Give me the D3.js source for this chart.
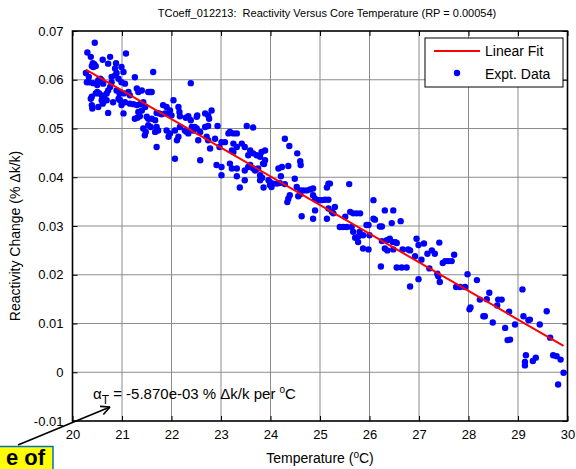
<!DOCTYPE html>
<html><head><meta charset="utf-8">
<script src="https://cdn.jsdelivr.net/npm/d3@7"></script>
<style>body{margin:0;background:#fff}svg{display:block;font-family:"Liberation Sans",Arial,sans-serif}</style>
</head><body><svg id="c" width="576" height="469"></svg>
<script>
const xTicks=[20,21,22,23,24,25,26,27,28,29,30];
const yTicks=[-0.01,0,0.01,0.02,0.03,0.04,0.05,0.06,0.07];
const yTickLabels=["-0.01","0","0.01","0.02","0.03","0.04","0.05","0.06","0.07"];
const fitT=[20.27,29.92];
const fitV=[0.0621,0.0054];
const exptData=[
[20.45,0.0676],[20.30,0.0656],[20.37,0.0647],[20.76,0.0647],[20.61,0.0641],[21.08,0.0654],[20.41,0.0634],[20.44,0.0632],[20.39,0.0628],[20.47,0.0628],[20.42,0.0626],[20.72,0.0633],[20.88,0.0634],[20.86,0.0623],[20.99,0.0626],[21.03,0.0616],[20.89,0.0614],[20.27,0.0614],[21.63,0.0616],
[20.33,0.0606],[20.29,0.0595],[20.34,0.0595],[20.56,0.0602],[20.59,0.0599],[20.52,0.0599],[20.62,0.0592],[20.42,0.0593],[20.50,0.0589],[20.79,0.0606],[20.86,0.0609],[20.79,0.0595],[20.93,0.0602],[20.99,0.0595],[21.06,0.0592],[21.26,0.0605],[22.39,0.0593],
[20.50,0.0575],[20.54,0.0572],[20.47,0.0572],[20.59,0.0568],[20.69,0.0572],[20.64,0.0565],[20.39,0.0565],[20.37,0.0561],[20.76,0.0585],[20.72,0.0578],[20.89,0.0578],[20.96,0.0575],[20.95,0.0572],[21.04,0.0572],[21.13,0.0575],[21.16,0.0568],[21.30,0.0582],[21.33,0.0575],[21.40,0.0578],[21.57,0.0575],[21.53,0.0575],[21.60,0.0575],
[20.59,0.0558],[20.62,0.0554],[20.69,0.0558],[20.61,0.0551],[20.39,0.0548],[20.40,0.0541],[20.52,0.0544],[20.82,0.0554],[20.93,0.0561],[20.96,0.0558],[20.99,0.0548],[21.06,0.0554],[21.16,0.0551],[21.23,0.0550],[21.30,0.0548],[21.36,0.0550],[21.43,0.0554],[21.47,0.0544],[21.40,0.0537],[20.72,0.0532],[21.03,0.0531],[21.33,0.0534],[21.36,0.0525],[21.26,0.0520],[21.31,0.0522],[21.50,0.0524],[21.53,0.0520],[21.60,0.0520],[21.67,0.0517],[21.70,0.0532],[21.75,0.0531],[21.80,0.0529],[21.87,0.0531],[21.94,0.0531],[22.00,0.0527],[22.04,0.0558],[22.14,0.0544],[22.16,0.0534],[22.17,0.0525],[22.29,0.0522],[22.34,0.0525],[22.39,0.0517],[21.83,0.0548],[21.90,0.0544],[21.97,0.0537],[22.51,0.0524],[22.52,0.0527],[22.68,0.0531],[22.74,0.0527],[22.81,0.0537],[22.76,0.0520],
[21.43,0.0500],[21.48,0.0493],[21.46,0.0486],[21.53,0.0507],[21.58,0.0503],[21.67,0.0493],[21.70,0.0462],[21.70,0.0503],[21.73,0.0496],[21.90,0.0496],[21.97,0.0490],[21.94,0.0483],[22.07,0.0496],[22.11,0.0476],[22.07,0.0438],[22.14,0.0483],[22.17,0.0503],[22.27,0.0496],[22.31,0.0493],[22.34,0.0490],[22.41,0.0503],[22.44,0.0496],[22.47,0.0503],[22.51,0.0500],[22.58,0.0493],[22.54,0.0476],[22.74,0.0476],[22.71,0.0483],[22.78,0.0459],[22.88,0.0479],[22.97,0.0462],[22.58,0.0435],[22.68,0.0503],[22.74,0.0505],
[22.93,0.0505],[23.18,0.0493],[23.15,0.0490],[23.25,0.0490],[23.32,0.0490],[23.52,0.0505],[23.65,0.0502],[23.01,0.0472],[23.08,0.0472],[23.25,0.0469],[23.32,0.0462],[23.42,0.0469],[23.48,0.0462],[23.22,0.0455],[23.25,0.0452],[23.59,0.0455],[23.65,0.0449],[23.72,0.0445],[23.55,0.0445],[23.82,0.0452],[23.89,0.0455],[23.79,0.0442],[24.29,0.0479],[24.38,0.0464],[24.54,0.0449],[24.60,0.0433],[24.61,0.0425],[22.91,0.0425],[23.01,0.0421],[23.01,0.0404],[23.18,0.0428],[23.22,0.0418],[23.32,0.0418],[23.32,0.0402],[23.48,0.0414],[23.55,0.0421],[23.59,0.0425],[23.65,0.0418],[23.69,0.0414],[23.75,0.0418],[23.79,0.0404],[23.85,0.0428],[23.89,0.0435],[23.87,0.0427],[23.48,0.0394],[23.38,0.0379],[23.83,0.0399],[23.79,0.0394],[23.86,0.0379],[23.96,0.0394],[23.99,0.0390],[24.06,0.0387],[24.13,0.0387],[24.19,0.0388],[24.02,0.0380],[23.99,0.0384],[24.16,0.0418],[24.23,0.0421],[24.36,0.0423],[24.21,0.0402],[24.49,0.0397],[24.29,0.0386],[24.53,0.0380],[24.60,0.0373],[24.66,0.0373],[24.73,0.0373],[24.80,0.0375],[24.86,0.0377],[24.39,0.0363],[24.36,0.0356],[24.34,0.0349],[24.60,0.0365],[24.56,0.0361],[24.90,0.0356],[24.97,0.0353],[25.03,0.0353],[25.10,0.0354],[25.17,0.0354],[24.86,0.0363],[25.14,0.0379],[25.17,0.0387],[25.20,0.0387],[25.59,0.0386],[24.90,0.0332],[24.63,0.0320],[24.86,0.0315],[25.14,0.0315],[25.27,0.0326],[25.30,0.0339],[25.24,0.0329],[25.17,0.0336],[25.51,0.0319],[25.61,0.0329],[25.67,0.0326],[25.74,0.0326],[25.81,0.0326],
[25.40,0.0298],[25.47,0.0298],[25.54,0.0298],[25.64,0.0298],[25.67,0.0288],[25.71,0.0276],[25.77,0.0278],[25.87,0.0281],[25.94,0.0302],[25.98,0.0302],[26.08,0.0353],[26.08,0.0315],[26.21,0.0299],[26.25,0.0299],[26.31,0.0332],[26.48,0.0332],[26.45,0.0306],[26.35,0.0271],[26.41,0.0274],[26.47,0.0267],[25.87,0.0254],[25.98,0.0252],[25.77,0.0267],
[26.11,0.0313],[26.63,0.0310],[25.80,0.0288],[26.00,0.0281],[26.25,0.0269],[26.31,0.0254],[26.36,0.0250],[26.40,0.0272],[26.48,0.0252],[26.52,0.0267],[26.55,0.0265],[26.67,0.0252],[26.78,0.0252],[26.82,0.0250],[26.92,0.0238],[26.99,0.0261],[26.95,0.0274],[27.05,0.0231],[26.23,0.0217],[26.55,0.0215],[26.65,0.0215],[26.75,0.0215],[26.82,0.0176],[26.99,0.0191],[27.10,0.0264],[27.17,0.0243],[27.26,0.0250],[27.32,0.0243],[27.41,0.0266],[27.21,0.0213],[27.37,0.0202],[27.39,0.0197],[27.42,0.0185],[27.48,0.0224],[27.53,0.0228],[27.59,0.0228],[27.66,0.0228],[27.71,0.0241],[27.75,0.0175],[27.83,0.0175],[27.93,0.0175],[27.98,0.0201],[28.17,0.0189],[28.02,0.0129],[28.04,0.0133],[28.23,0.0149],[28.37,0.0150],[28.42,0.0163],[28.60,0.0149],[28.67,0.0149],[28.30,0.0115],[28.33,0.0115],[28.49,0.0102],[28.58,0.0137],[28.74,0.0091],[28.79,0.0066],[28.84,0.0067],[28.82,0.0124],[28.94,0.0098],[29.09,0.0170],[29.11,0.0115],[29.21,0.0107],[29.24,0.0108],[29.44,0.0098],[29.58,0.0125],[29.65,0.0071],[29.16,0.0035],[29.14,0.0021],[29.14,0.0014],[29.30,0.0023],[29.36,0.0030],[29.71,0.0035],[29.78,0.0033],[29.86,0.0026],[29.92,-0.0001],[29.81,-0.0025]
];
const titleText="TCoeff_012213:\u00A0\u00A0Reactivity Versus Core Temperature (RP = 0.00054)";
const legendLabels=["Linear Fit","Expt. Data"];

const svg=d3.select("#c");
const L=72.5,R=567.5,T=31,B=421;
const x=d3.scaleLinear().domain([20,30]).range([L,R]);
const y=d3.scaleLinear().domain([-0.01,0.07]).range([B,T]);

svg.append("rect").attr("width",576).attr("height",469).attr("fill","#fff");
// grid
const g=svg.append("g").attr("stroke","#8c8c8c").attr("stroke-width",1);
xTicks.slice(1,-1).forEach(t=>g.append("line").attr("x1",x(t)).attr("x2",x(t)).attr("y1",T).attr("y2",B));
yTicks.slice(1,-1).forEach(t=>g.append("line").attr("y1",y(t)).attr("y2",y(t)).attr("x1",L).attr("x2",R));

// axes with inward ticks
const ax=svg.append("g");
ax.append("g").attr("transform",`translate(0,${B})`).call(d3.axisBottom(x).tickValues(xTicks).tickSizeInner(-5).tickSizeOuter(0).tickPadding(9).tickFormat(d3.format("d")));
ax.append("g").attr("transform",`translate(0,${T})`).call(d3.axisTop(x).tickValues(xTicks).tickSizeInner(-5).tickSizeOuter(0).tickFormat(""));
ax.append("g").attr("transform",`translate(${L},0)`).call(d3.axisLeft(y).tickValues(yTicks).tickSizeInner(-5).tickSizeOuter(0).tickPadding(9).tickFormat((d,i)=>yTickLabels[i]));
ax.append("g").attr("transform",`translate(${R},0)`).call(d3.axisRight(y).tickValues(yTicks).tickSizeInner(-5).tickSizeOuter(0).tickFormat(""));
svg.selectAll(".domain").remove();
svg.selectAll(".tick line").attr("stroke","#000");
svg.selectAll(".tick text").attr("font-family","Liberation Sans, Arial, sans-serif").attr("font-size",13).attr("fill","#000");
svg.append("rect").attr("x",L).attr("y",T).attr("width",R-L).attr("height",B-T).attr("fill","none").attr("stroke","#000").attr("stroke-width",1.6);

// data
svg.append("g").attr("fill","#0000ff").selectAll("circle").data(exptData).join("circle")
 .attr("cx",d=>x(d[0])).attr("cy",d=>y(d[1])).attr("r",3.2);
// fit
svg.append("path").datum(fitT.map((t,i)=>[t,fitV[i]])).attr("fill","none").attr("stroke","#ff0000").attr("stroke-width",2)
 .attr("d",d3.line().x(d=>x(d[0])).y(d=>y(d[1])));

// title
svg.append("text").attr("x",327).attr("y",17).attr("text-anchor","middle").attr("font-size",11).text(titleText);
// x label
const xlab=svg.append("text").attr("x",320).attr("y",463).attr("text-anchor","middle").attr("font-size",14);
xlab.append("tspan").text("Temperature (");
xlab.append("tspan").attr("dy",-5).attr("font-size",10).text("o");
xlab.append("tspan").attr("dy",5).text("C)");
// y label
svg.append("text").attr("transform","translate(20,236) rotate(-90)").attr("text-anchor","middle").attr("font-size",14).text("Reactivity Change (% \u0394k/k)");

// legend
const lg=svg.append("g");
lg.append("rect").attr("x",425).attr("y",38).attr("width",138).attr("height",49).attr("fill","#fff").attr("stroke","#000").attr("stroke-width",1);
lg.append("line").attr("x1",434).attr("x2",480).attr("y1",51).attr("y2",51).attr("stroke","#ff0000").attr("stroke-width",2);
lg.append("circle").attr("cx",457).attr("cy",73).attr("r",3.2).attr("fill","#0000ff");
lg.append("text").attr("x",485).attr("y",56).attr("font-size",14).text(legendLabels[0]);
lg.append("text").attr("x",485).attr("y",79).attr("font-size",14).text(legendLabels[1]);

// annotation text
const an=svg.append("text").attr("x",93).attr("y",399).attr("font-size",15);
an.append("tspan").text("\u03B1");
an.append("tspan").attr("dy",5).attr("font-size",12).text("T");
an.append("tspan").attr("dy",-5).text(" = -5.870e-03 % \u0394k/k per ");
an.append("tspan").attr("dy",-6).attr("font-size",10).text("o");
an.append("tspan").attr("dy",6).text("C");

// arrow + callout box
svg.append("line").attr("x1",18).attr("y1",445).attr("x2",110).attr("y2",407).attr("stroke","#000").attr("stroke-width",1.6);
const ang=Math.atan2(407-445,110-18);
const hl=10;
[0.45,-0.45].forEach(a=>svg.append("line").attr("x1",110).attr("y1",407)
  .attr("x2",110-hl*Math.cos(ang+a)).attr("y2",407-hl*Math.sin(ang+a)).attr("stroke","#000").attr("stroke-width",1.6));
svg.append("rect").attr("x",-5).attr("y",446.5).attr("width",58).attr("height",30).attr("fill","#ffff00").attr("stroke","#0070c0").attr("stroke-width",1.5);
svg.append("text").attr("x",45).attr("y",465).attr("text-anchor","end").attr("font-size",22).attr("font-weight","bold").text("e of");
</script></body></html>
